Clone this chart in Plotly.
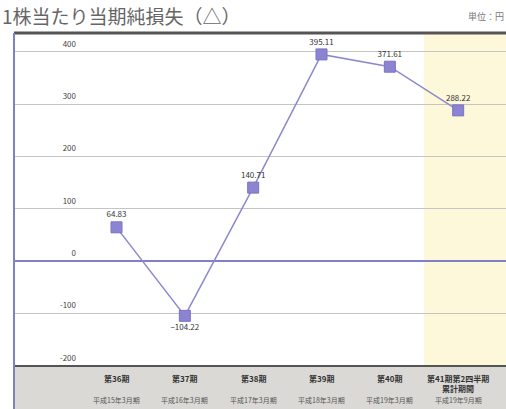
import plotly.graph_objects as go

categories = ["第36期", "第37期", "第38期", "第39期", "第40期", "第41期第2四半期"]
sub_labels = ["", "", "", "", "", "累計期間"]
periods = ["平成15年3月期", "平成16年3月期", "平成17年3月期", "平成18年3月期", "平成19年3月期", "平成19年9月期"]
values = [64.83, -104.22, 140.71, 395.11, 371.61, 288.22]
value_text = ["64.83", "−104.22", "140.71", "395.11", "371.61", "288.22"]
y_ticks = [400, 300, 200, 100, 0, -100, -200]

FONT = "Noto Sans CJK JP"
W, H = 506, 409
ML, MR, MT, MB = 14, 0, 33, 43
plot_h = H - MT - MB

fig = go.Figure()
fig.add_trace(go.Scatter(
    x=categories, y=values, mode="lines+markers+text",
    line=dict(color="#8c88cf", width=1.5),
    marker=dict(symbol="square", size=11, color="#8b84d2", line=dict(color="#7a74c4", width=1)),
    text=value_text,
    textposition=["top center", "bottom center", "top center", "top center", "top center", "top center"],
    textfont=dict(family=FONT, size=8, color="#333333"),
    cliponaxis=False, hoverinfo="skip", showlegend=False,
))

shapes = [
    dict(type="rect", xref="x", yref="paper", x0=4.5, x1=5.7, y0=0, y1=1,
         fillcolor="#fdf8d9", line=dict(width=0), layer="below"),
    dict(type="rect", xref="paper", yref="paper", x0=0, x1=1, y0=-MB / plot_h, y1=0,
         fillcolor="#dad9d5", line=dict(width=0), layer="below"),
    dict(type="line", xref="paper", yref="paper", x0=0, x1=1, y0=1, y1=1,
         line=dict(color="#555555", width=3)),
    dict(type="line", xref="paper", yref="paper", x0=0, x1=1, y0=0, y1=0,
         line=dict(color="#555555", width=2)),
    dict(type="line", xref="paper", yref="paper", x0=0, x1=0, y0=-MB / plot_h, y1=1,
         line=dict(color="#8080c4", width=2)),
]

annotations = [
    dict(text="1株当たり当期純損失（△）", xref="paper", yref="paper",
         x=-ML / (W - ML), y=1 + (MT - 16) / plot_h, xanchor="left", yanchor="middle",
         showarrow=False, font=dict(family=FONT, size=19, color="#666666")),
    dict(text="単位：円", xref="paper", yref="paper",
         x=(466 - ML) / (W - ML), y=1 + (MT - 17) / plot_h, xanchor="left", yanchor="middle",
         showarrow=False, font=dict(family=FONT, size=9, color="#777777")),
]
for i, c in enumerate(categories):
    annotations.append(dict(text="<b>" + c + "</b>", xref="x", yref="paper", x=i,
                            y=-(378 - (H - MB)) / plot_h, xanchor="center", yanchor="middle",
                            showarrow=False, font=dict(family=FONT, size=8, color="#333333")))
    if sub_labels[i]:
        annotations.append(dict(text="<b>" + sub_labels[i] + "</b>", xref="x", yref="paper", x=i,
                                y=-(389 - (H - MB)) / plot_h, xanchor="center", yanchor="middle",
                                showarrow=False, font=dict(family=FONT, size=8, color="#333333")))
    annotations.append(dict(text=periods[i], xref="x", yref="paper", x=i,
                            y=-(400 - (H - MB)) / plot_h, xanchor="center", yanchor="middle",
                            showarrow=False, font=dict(family=FONT, size=7, color="#555555")))

fig.update_layout(
    width=W, height=H,
    margin=dict(l=ML, r=MR, t=MT, b=MB),
    paper_bgcolor="white", plot_bgcolor="rgba(0,0,0,0)",
    xaxis=dict(type="category", range=[-1.5, 5.7], showticklabels=False,
               showgrid=False, zeroline=False, showline=False, fixedrange=True),
    yaxis=dict(range=[-200, 436], tickvals=y_ticks, ticktext=[str(v) for v in y_ticks],
               anchor="free", position=(76 - ML) / (W - ML), ticklabelshift=-8,
               showgrid=True, gridcolor="#c4c4c4", gridwidth=1,
               zeroline=True, zerolinecolor="#8080c8", zerolinewidth=2,
               showline=False, ticks="", tickfont=dict(family=FONT, size=8, color="#444444")),
    shapes=shapes, annotations=annotations,
)

fig.write_html("out.html")
